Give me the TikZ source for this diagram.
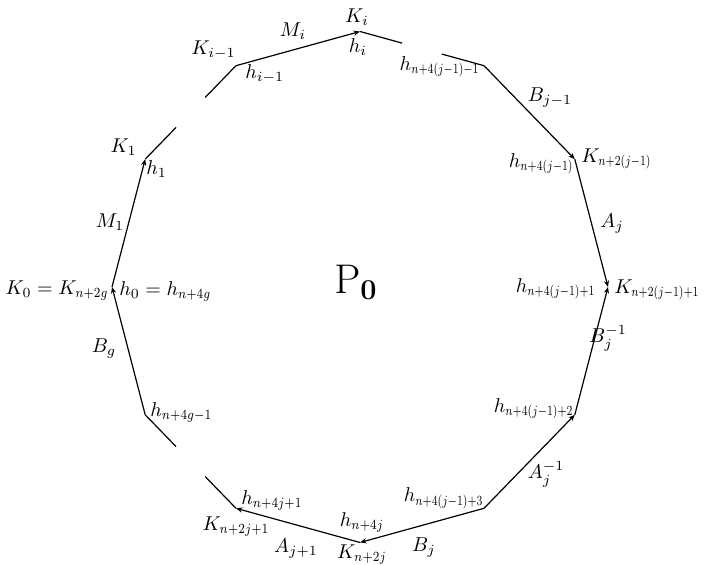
\documentclass[tikz,border=0pt]{standalone}
\usetikzlibrary{calc,arrows.meta}
\newcommand{\sq}[1]{\scalebox{0.74}[1]{$\scriptstyle #1$}}
\newcommand{\sr}[1]{\scalebox{0.84}[1]{$\scriptstyle #1$}}
\begin{document}
\begin{tikzpicture}[x=0.5pt,y=-0.5pt,
  edge/.style={line width=0.6pt},
  arr/.style={edge,-{Stealth[length=3.2pt,width=2.6pt]}},
  lab/.style={inner sep=0pt,font=\normalsize}]
\useasboundingbox (0,0) rectangle (705,565);
% vertices of the 12-gon
\coordinate (v90) at (360,31.5);
\coordinate (v60) at (484,65.7);
\coordinate (v30) at (574.8,159.2);
\coordinate (v0) at (608,287);
\coordinate (v330) at (574.8,414.8);
\coordinate (v300) at (484,508.3);
\coordinate (v270) at (360,542.5);
\coordinate (v240) at (236,508.3);
\coordinate (v210) at (145.2,414.8);
\coordinate (v180) at (112,287);
\coordinate (v150) at (145.2,159.2);
\coordinate (v120) at (236,65.7);
% partial edges
\coordinate (g1a) at ($(v90)!0.34!(v60)$);
\coordinate (g1b) at ($(v60)!0.34!(v90)$);
\coordinate (g2a) at ($(v120)!0.34!(v150)$);
\coordinate (g2b) at ($(v150)!0.34!(v120)$);
\coordinate (g3a) at ($(v210)!0.34!(v240)$);
\coordinate (g3b) at ($(v240)!0.34!(v210)$);
\draw[edge] (v90) -- (g1a);
\draw[edge] (g1b) -- (v60);
\draw[edge] (g2a) -- (v120);
\draw[edge] (g2b) -- (v150);
\draw[edge] (v210) -- (g3a);
\draw[edge] (g3b) -- (v240);
% full edges with arrows
\draw[arr] (v120) -- (v90);
\draw[arr] (v60) -- (v30);
\draw[arr] (v30) -- (v0);
\draw[arr] (v330) -- (v0);
\draw[arr] (v300) -- (v330);
\draw[arr] (v300) -- (v270);
\draw[arr] (v270) -- (v240);
\draw[arr] (v210) -- (v180);
\draw[arr] (v180) -- (v150);
% labels
\node[lab] (lKi) at (357,17) {$K_i$};
\node[lab] (lhi) at (358,47) {$h_i$};
\node[lab] (lMi) at (293,31) {$M_i$};
\node[lab,anchor=east] (lKim) at (236,50) {$K_{i-1}$};
\node[lab,anchor=west] (lhim) at (245,74) {$h_{i-1}$};
\node[lab,anchor=east] (lh1) at (480,67) {$h_{\sq{n+4(j-1)-1}}$};
\node[lab] (lBjm) at (550,98) {$B_{j-1}$};
\node[lab,anchor=west] (lK2) at (581,159) {$K_{\sq{n+2(j-1)}}$};
\node[lab,anchor=east] (lh2) at (574,164) {$h_{\sq{n+4(j-1)}}$};
\node[lab] (lAj) at (612,224) {$A_j$};
\node[lab,anchor=east] (lh3) at (596,289) {$h_{\sq{n+4(j-1)+1}}$};
\node[lab,anchor=west] (lK3) at (614,290) {$K_{\sq{n+2(j-1)+1}}$};
\node[lab] (lBji) at (608,338) {$B_j^{-1}$};
\node[lab,anchor=east] (lh4) at (574,409) {$h_{\sq{n+4(j-1)+2}}$};
\node[lab] (lAji) at (546,474) {$A_j^{-1}$};
\node[lab,anchor=east] (lh5) at (484,498) {$h_{\sq{n+4(j-1)+3}}$};
\node[lab] (lBj) at (424,548) {$B_j$};
\node[lab] (lK4) at (362,555) {$K_{\sr{n+2j}}$};
\node[lab] (lh6) at (362,522) {$h_{\sr{n+4j}}$};
\node[lab] (lAj1) at (296,549) {$A_{j+1}$};
\node[lab] (lK5) at (236,527) {$K_{\sr{n+2j+1}}$};
\node[lab,anchor=west] (lh7) at (241,500) {$h_{\sr{n+4j+1}}$};
\node[lab,anchor=west] (lh8) at (150,412) {$h_{\sr{n+4g-1}}$};
\node[lab] (lBg) at (104,349) {$B_g$};
\node[lab,anchor=east] (lK0) at (109,291) {$K_0=K_{\sr{n+2g}}$};
\node[lab,anchor=west] (lh0) at (119,291) {$h_0=h_{\sr{n+4g}}$};
\node[lab] (lM1) at (110,222) {$M_1$};
\node[lab,anchor=east] (lK1) at (137,147) {$K_1$};
\node[lab,anchor=west] (lh1b) at (146,169) {$h_1$};
\node[lab,font=\fontsize{20}{24}\selectfont] (P0) at (356,282) {$\mathrm{P}_{\mathbf{0}}$};
\end{tikzpicture}
\end{document}
